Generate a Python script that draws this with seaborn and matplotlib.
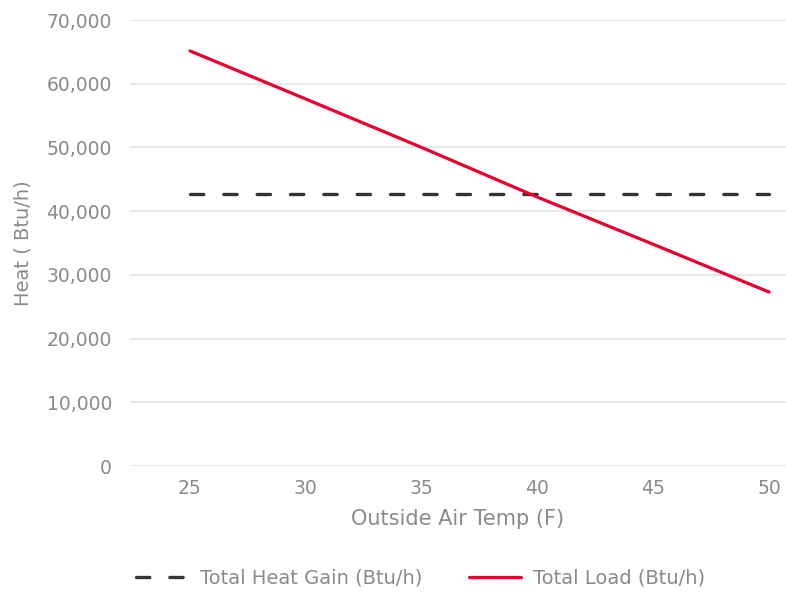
#!/usr/bin/env python3
"""Heat gain vs total load over outside air temperature."""

import matplotlib
matplotlib.use("Agg")
import matplotlib.pyplot as plt
import pandas as pd
import seaborn as sns

# values
temps = [25, 30, 35, 40, 45, 50]
total_load = [65150, 57600, 50000, 42200, 34800, 27300]
heat_gain = [42700, 42700, 42700, 42700, 42700, 42700]
y_ticks = [0, 10000, 20000, 30000, 40000, 50000, 60000, 70000]
x_ticks = [25, 30, 35, 40, 45, 50]

GRAY_TXT = "#8a8a8a"
RED = "#e8002f"
DARK = "#333333"

sns.set_theme(style="white")
plt.rcParams["font.family"] = ["DejaVu Sans"]

df = pd.DataFrame({"temp": temps, "load": total_load, "gain": heat_gain})

fig = plt.figure(figsize=(7.86, 5.93), dpi=100)
ax = fig.add_axes([130 / 786, 1 - 466 / 593, (786 - 130) / 786, (466 - 20) / 593])

sns.lineplot(data=df, x="temp", y="gain", ax=ax, color=DARK, linewidth=2.4,
             dashes=False, label="Total Heat Gain (Btu/h)")
sns.lineplot(data=df, x="temp", y="load", ax=ax, color=RED, linewidth=2.3,
             label="Total Load (Btu/h)")
ax.lines[0].set_dashes((4.0, 6.0))
ax.lines[0].set_dash_capstyle("round")

ax.set_xlim(22.41, 50.73)
ax.set_ylim(0, 70000)
ax.set_xticks(x_ticks)
ax.set_yticks(y_ticks)
ax.set_yticklabels([f"{v:,}" for v in y_ticks])
ax.grid(axis="y", color="#e4e4e4", linewidth=1.2)
ax.set_axisbelow(True)
for s in ax.spines.values():
    s.set_visible(False)

ax.tick_params(axis="y", colors=GRAY_TXT, labelsize=13.5, length=0, pad=13)
ax.tick_params(axis="x", colors=GRAY_TXT, labelsize=13.5, length=0, pad=9)
ax.set_xlabel("Outside Air Temp (F)", color=GRAY_TXT, fontsize=15, labelpad=8)
ax.set_ylabel("Heat ( Btu/h)", color=GRAY_TXT, fontsize=14, labelpad=10)

handles, labels = ax.get_legend_handles_labels()
ax.get_legend().remove()
leg = fig.legend(handles, labels, loc="center", bbox_to_anchor=(0.535, 1 - 578 / 593),
                 ncol=2, frameon=False, fontsize=14, handlelength=2.7,
                 handletextpad=0.6, columnspacing=2.4)
for t in leg.get_texts():
    t.set_color(GRAY_TXT)

fig.savefig("out.png", dpi=100)
